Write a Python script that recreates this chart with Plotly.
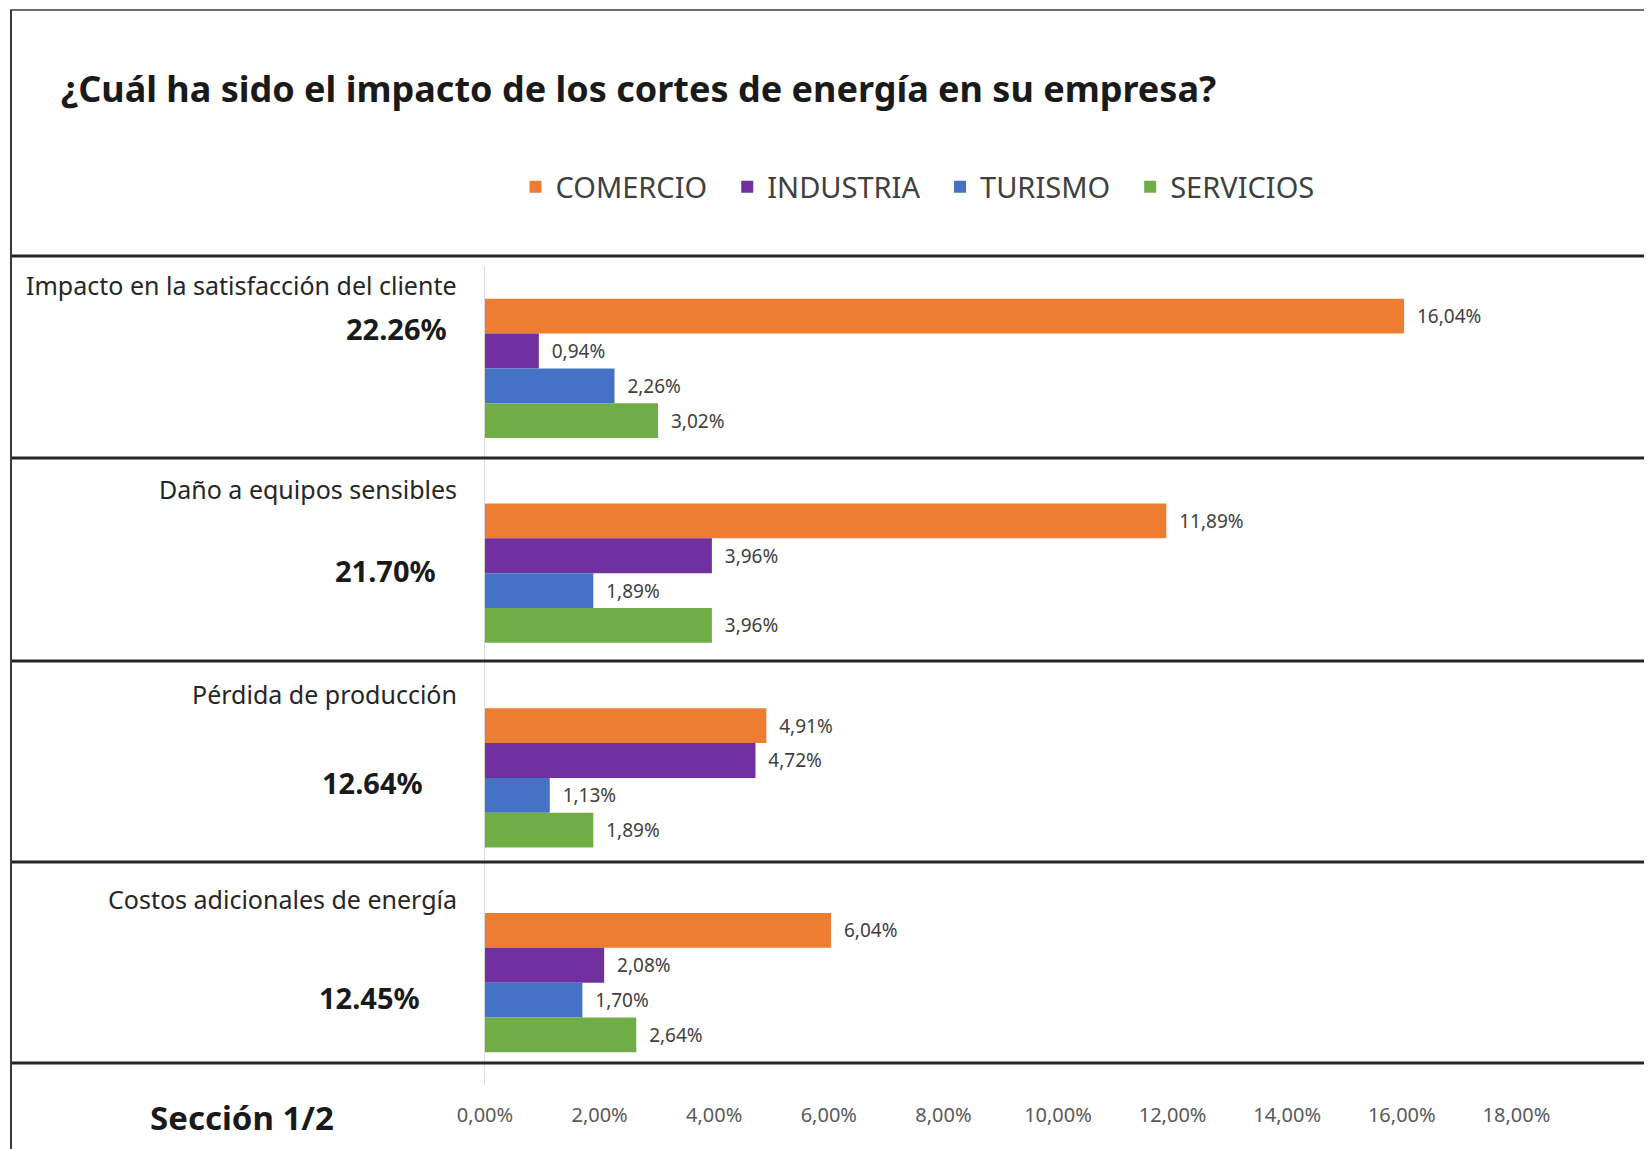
import plotly.graph_objects as go

# datos
categorias = [
    "Impacto en la satisfacción del cliente",
    "Daño a equipos sensibles",
    "Pérdida de producción",
    "Costos adicionales de energía",
]
totales = ["22.26%", "21.70%", "12.64%", "12.45%"]
sectores = ["COMERCIO", "INDUSTRIA", "TURISMO", "SERVICIOS"]
comercio = [16.04, 11.89, 4.91, 6.04]
industria = [0.94, 3.96, 4.72, 2.08]
turismo = [2.26, 1.89, 1.13, 1.70]
servicios = [3.02, 3.96, 1.89, 2.64]
ticks_x = [0, 2, 4, 6, 8, 10, 12, 14, 16, 18]
ticks_txt = [('%.2f%%' % v).replace('.', ',') for v in ticks_x]

colores = ['#ED7D31', '#7030A0', '#4472C4', '#70AD47']
FONT = 'Noto Sans'

W, H = 1652, 1149
OFF = 8  # margen del body de la pagina html
ML, MR, MT, MB = 485 - OFF, 29, 266 - OFF, 72


def px(x):
    """pixel de la imagen -> coordenada paper en x"""
    return (x - OFF - ML) / (W - ML - MR)


def py(y):
    """pixel de la imagen -> coordenada paper en y"""
    return (H - MB - (y - OFF)) / (H - MT - MB)


fig = go.Figure()

for nombre, valores, color in zip(sectores, [comercio, industria, turismo, servicios], colores):
    fig.add_trace(go.Bar(
        y=categorias,
        x=valores,
        name=nombre + '\u00a0\u00a0',
        orientation='h',
        marker=dict(color=color, line=dict(width=0)),
        texttemplate='\u00a0\u00a0%{x:.2f}%',
        textposition='outside',
        textfont=dict(size=19, color='#404040', family=FONT),
        cliponaxis=False,
    ))

# etiquetas de categoria y totales a la izquierda
label_y = [284.5, 489, 694, 899]
total_pos = [(449, 329), (438, 570), (425, 782), (422, 997)]
annotations = []
for cat, yy in zip(categorias, label_y):
    annotations.append(dict(
        text=cat, xref='paper', yref='paper', x=px(459), y=py(yy),
        xanchor='right', yanchor='middle', showarrow=False,
        font=dict(size=25, color='#262626', family=FONT)
    ))
for tot, (xx, yy) in zip(totales, total_pos):
    annotations.append(dict(
        text='<b>%s</b>' % tot, xref='paper', yref='paper', x=px(xx), y=py(yy),
        xanchor='right', yanchor='middle', showarrow=False,
        font=dict(size=29, color='#1a1a1a', family=FONT)
    ))
annotations.append(dict(
    text='<b>Sección 1/2</b>', xref='paper', yref='paper', x=px(242), y=py(1117),
    xanchor='center', yanchor='middle', showarrow=False,
    font=dict(size=33, color='#1a1a1a', family=FONT)
))

# lineas separadoras y marco
shapes = []
for yy in [256, 458, 661, 862, 1063]:
    shapes.append(dict(
        type='line', xref='paper', yref='paper',
        x0=px(10), x1=px(W + OFF), y0=py(yy), y1=py(yy),
        line=dict(color='#262626', width=3)
    ))
shapes.append(dict(type='line', xref='paper', yref='paper',
                   x0=px(10), x1=px(W + OFF), y0=py(10), y1=py(10),
                   line=dict(color='#6e6e6e', width=2)))
shapes.append(dict(type='line', xref='paper', yref='paper',
                   x0=px(11), x1=px(11), y0=py(10), y1=py(H + OFF),
                   line=dict(color='#3a3a3a', width=2)))

fig.update_layout(
    width=W,
    height=H,
    paper_bgcolor='white',
    plot_bgcolor='white',
    margin=dict(l=ML, r=MR, t=MT, b=MB, autoexpand=False),
    separators=',.',
    barmode='group',
    bargap=0.32,
    bargroupgap=0,
    font=dict(family=FONT, color='#404040'),
    title=dict(
        text='<b>¿Cuál ha sido el impacto de los cortes de energía en su empresa?</b>',
        x=(61 - OFF) / W, xanchor='left', xref='container',
        y=1 - (89 - OFF) / H, yanchor='middle', yref='container',
        font=dict(size=36, color='#1a1a1a', family=FONT)
    ),
    legend=dict(
        orientation='h',
        x=px(925), xanchor='center',
        y=py(187), yanchor='middle',
        font=dict(size=29, color='#404040', family=FONT),
        traceorder='normal',
    ),
    xaxis=dict(
        range=[0, 20],
        tickvals=ticks_x,
        ticktext=ticks_txt,
        showgrid=False,
        zeroline=False,
        showline=False,
        ticks='',
        ticklabelstandoff=16,
        tickfont=dict(size=20, color='#595959', family=FONT),
    ),
    yaxis=dict(
        range=[3.5, -0.5],
        showticklabels=False,
        showgrid=False,
        zeroline=False,
        showline=True,
        linecolor='#d9d9d9',
        linewidth=1,
        ticks='',
    ),
    annotations=annotations,
    shapes=shapes,
)

fig.write_html("out.html")
